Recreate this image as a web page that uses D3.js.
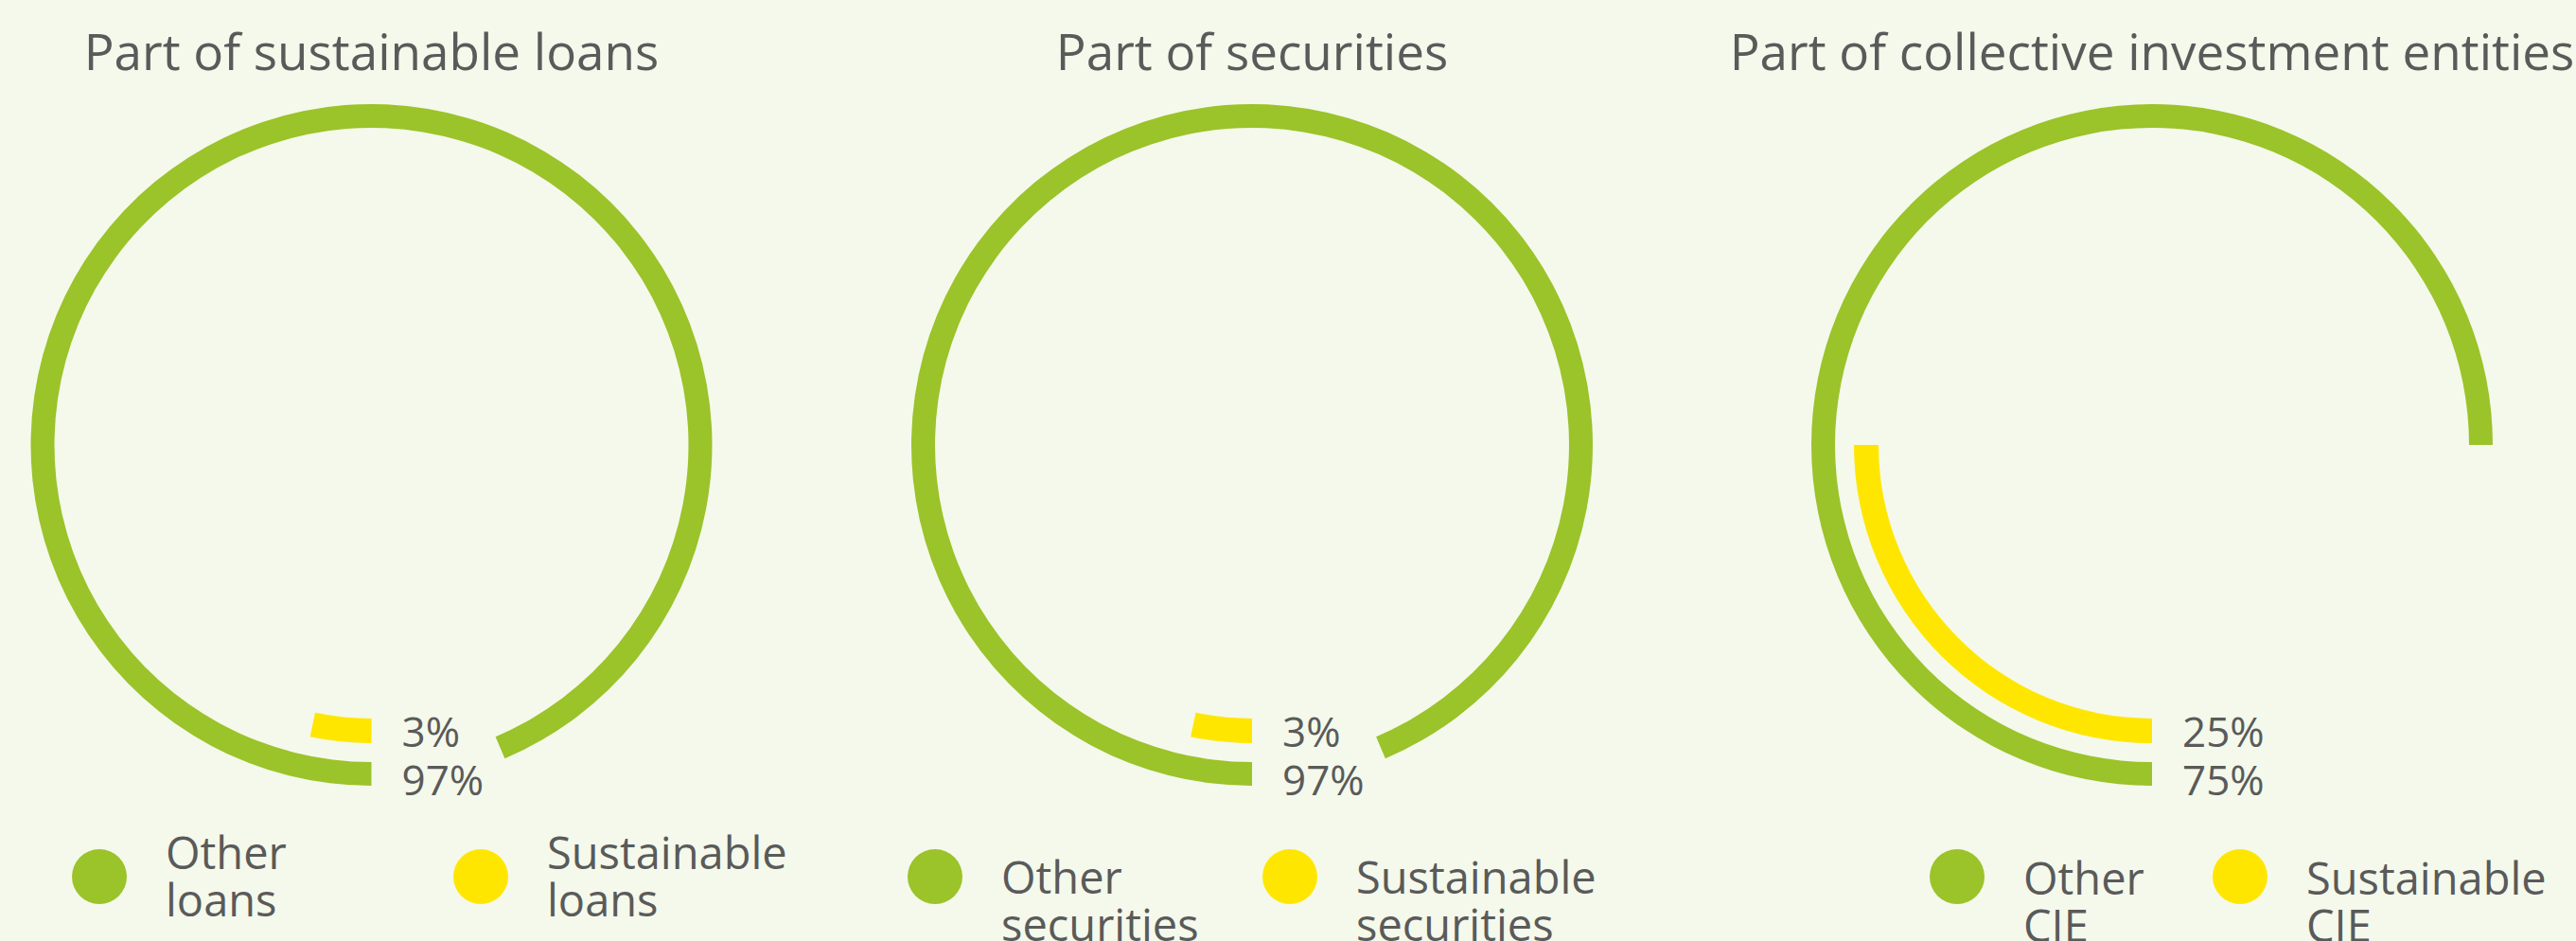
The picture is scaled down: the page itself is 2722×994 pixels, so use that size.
<!DOCTYPE html>
<html>
<head>
<meta charset="utf-8">
<script src="https://cdn.jsdelivr.net/npm/d3@7"></script>
<style>
  body { margin: 0; background: #f4f9eb; overflow: hidden; }
  svg text { font-family: "Open Sans", "Noto Sans", sans-serif; fill: #5a5a5a; }
</style>
</head>
<body>
<svg id="chart" width="2722" height="994"></svg>
<script>
// --- data ---
const titles = ["Part of sustainable loans", "Part of securities", "Part of collective investment entities"];
const otherShare = [93.6, 93.6, 75];        // arc length as drawn (% of full turn)
const sustainableShare = [3.3, 3.3, 25];
const otherLabels = ["97%", "97%", "75%"];
const sustainableLabels = ["3%", "3%", "25%"];
const otherNames = [["Other", "loans"], ["Other", "securities"], ["Other", "CIE"]];
const sustainableNames = [["Sustainable", "loans"], ["Sustainable", "securities"], ["Sustainable", "CIE"]];

// --- layout ---
const GREEN = "#9bc32a", YELLOW = "#ffe600";
const cy = 470;
const panelX = [392.5, 1323, 2274];
const legendDotX = [[105, 508], [988, 1363], [2068, 2367]];
const legendBase = [918, 944, 945];

const svg = d3.select("#chart");

const angle = d3.scaleLinear().domain([0, 100]).range([Math.PI, 3 * Math.PI]);
const outerArc = d3.arc().innerRadius(335).outerRadius(360).startAngle(Math.PI).endAngle(d => angle(d));
const innerArc = d3.arc().innerRadius(289).outerRadius(315).startAngle(Math.PI).endAngle(d => angle(d));

titles.forEach((t, i) => {
    const cx = panelX[i];
    const g = svg.append("g");

    g.append("text")
        .attr("x", cx).attr("y", 74)
        .attr("text-anchor", "middle")
        .style("font-size", "53px")
        .text(t);

    const ring = g.append("g").attr("transform", `translate(${cx},${cy})`);
    ring.append("path").attr("d", outerArc(otherShare[i])).attr("fill", GREEN);
    ring.append("path").attr("d", innerArc(sustainableShare[i])).attr("fill", YELLOW);

    ring.append("text")
        .attr("x", 32).attr("y", 319)
        .style("font-size", "44px")
        .text(sustainableLabels[i]);
    ring.append("text")
        .attr("x", 32).attr("y", 370)
        .style("font-size", "44px")
        .text(otherLabels[i]);

    const items = [
        { color: GREEN, lines: otherNames[i] },
        { color: YELLOW, lines: sustainableNames[i] }
    ];
    items.forEach((it, j) => {
        const x = legendDotX[i][j];
        g.append("ellipse")
            .attr("cx", x).attr("cy", 926)
            .attr("rx", 29).attr("ry", 29)
            .attr("fill", it.color);
        const txt = g.append("text")
            .attr("x", x + 70).attr("y", legendBase[i])
            .style("font-size", "47px");
        it.lines.forEach((l, k) => {
            txt.append("tspan")
                .attr("x", x + 70)
                .attr("dy", k === 0 ? 0 : 50)
                .text(l);
        });
    });
});
</script>
</body>
</html>
